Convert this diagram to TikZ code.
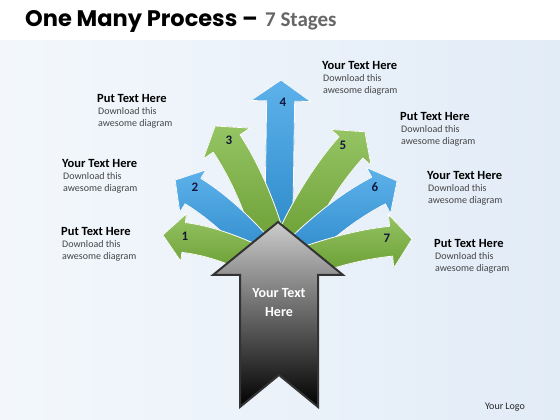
\documentclass[tikz,border=0pt]{standalone}
\usepackage{fontspec}
\setmainfont{Carlito}
\newfontfamily\titlefont{Poppins}
\usepackage{tikz}
\usetikzlibrary{calc,positioning}
\definecolor{fangreen}{HTML}{72B030}
\definecolor{fanblue}{HTML}{2898E4}
\definecolor{numcol}{HTML}{15163A}
\definecolor{descgray}{HTML}{454545}
\definecolor{bgblue}{HTML}{E2ECF7}
\definecolor{midgray}{HTML}{8C8C8C}
\tikzset{
fan/.style={draw=white, line width=0.8pt, line join=round},
numlbl/.style={font=\bfseries\fontsize{13}{13}\selectfont, text=numcol},
lbl/.style={anchor=west, inner sep=0pt, font=\bfseries\fontsize{12.5}{14}\selectfont},
desc/.style={anchor=north west, inner sep=0pt, align=left, text=descgray, font=\fontsize{10}{12.5}\selectfont}
}

\begin{document}
\begin{tikzpicture}[x=1pt,y=1pt]
\useasboundingbox (0,0) rectangle (560,420);
% background
\fill[left color=white!60!bgblue, right color=bgblue] (0,0) rectangle (560,380);
\fill[white] (0,380) rectangle (560,420);
\node[anchor=base west, inner sep=0pt, font=\titlefont\bfseries\fontsize{22.5}{22}\selectfont] (title) at (25,393) {One Many Process –};
\node[inner sep=0pt, font=\bfseries\fontsize{21}{20}\selectfont, text=black!60, right=7pt of title.base east, anchor=base west] (stages) {7 Stages};

% fan of arrows: angle/length/bend/colour/half shaft/half head
\foreach \ang/\len/\ep/\col/\hw/\hk in {89.1/192/0/fanblue/14/30, 113.3/159/10/fangreen/16/28, 58.2/165/-10/fangreen/16/27,
  138.2/138/10/fanblue/15/25, 37.4/150/-10/fanblue/15/26, 162.2/121/11/fangreen/15/24, 13.8/138/-8/fangreen/15/27}{
\begin{scope}[shift={(278,148)}, rotate=\ang]
\pgfmathsetmacro\hx{\len-21*cos(\ep)}
\pgfmathsetmacro\hy{-21*sin(\ep)}
\pgfmathsetmacro\sx{\hw*sin(\ep)}
\pgfmathsetmacro\sy{\hw*cos(\ep)}
\pgfmathsetmacro\kx{\hk*sin(\ep)}
\pgfmathsetmacro\ky{\hk*cos(\ep)}
\pgfmathsetmacro\cc{(\len-21)/3}
\filldraw[fan, top color=\col!75!white, bottom color=\col!85!black]
  (-90-\ep:\hw) .. controls +(-\ep:\cc) and +(180+\ep:\cc) .. ({\hx+\sx},{\hy-\sy})
  -- ({\hx+\kx},{\hy-\ky}) -- (\len,0) -- ({\hx-\kx},{\hy+\ky}) -- ({\hx-\sx},{\hy+\sy})
  .. controls +(180+\ep:\cc) and +(-\ep:\cc) .. (90-\ep:\hw) -- cycle;
\end{scope}
}

% numbers
\foreach \n/\x/\y in {1/185/184, 2/195/233, 3/229/280, 4/283/318, 5/343/275, 6/375/233, 7/387/182}
  \node[numlbl] (n\n) at (\x,\y) {\n};

% central arrow
\filldraw[draw=black!80, line width=2pt, line join=miter, top color=black!20, middle color=midgray, bottom color=black]
  (278,198) -- (343,145) -- (318,145) -- (318,13) -- (279,45) -- (240,13) -- (240,145) -- (213,145) -- cycle;
\node[align=center, text=white, font=\bfseries\fontsize{14}{19}\selectfont] (mid) at (279,117) {Your Text\\Here};

% labels
\node[lbl] (t1) at (61,189) {Put Text Here};
\node[lbl] (t2) at (62,257) {Your Text Here};
\node[lbl] (t3) at (97,322) {Put Text Here};
\node[lbl] (t4) at (322,355) {Your Text Here};
\node[lbl] (t5) at (400,304) {Put Text Here};
\node[lbl] (t6) at (427,245) {Your Text Here};
\node[lbl] (t7) at (434,177) {Put Text Here};
\foreach \i in {1,...,7}
  \node[desc] (d\i) at ([xshift=1pt,yshift=-5pt]t\i.south west) {Download this\\awesome diagram};

\node[font=\fontsize{10}{10}\selectfont, text=black!85] (logo) at (505,13) {Your Logo};
\end{tikzpicture}
\end{document}
